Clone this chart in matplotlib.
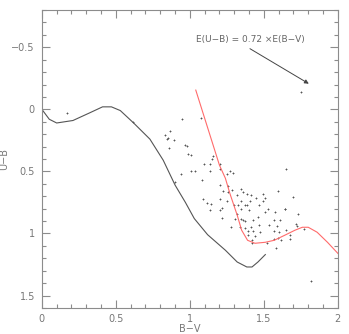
import matplotlib
matplotlib.use('Agg')
import matplotlib.pyplot as plt
from matplotlib.ticker import MultipleLocator, FuncFormatter

# intrinsic two-colour sequence (black)
seq_bv = [0.0, 0.05, 0.10, 0.21, 0.32, 0.41, 0.47, 0.53, 0.62, 0.73, 0.82, 0.90,
          0.97, 1.03, 1.12, 1.24, 1.32, 1.385, 1.42, 1.46, 1.51]
seq_ub = [0.0, 0.08, 0.11, 0.09, 0.03, -0.02, -0.02, 0.01, 0.11, 0.24, 0.41, 0.61,
          0.75, 0.88, 1.01, 1.135, 1.23, 1.27, 1.27, 1.23, 1.17]

# reddened sequence (red)
red_bv = [1.04, 1.20, 1.24, 1.27, 1.32, 1.35, 1.39, 1.44, 1.51, 1.57, 1.64, 1.71,
          1.76, 1.80, 1.86, 1.93, 2.0, 2.05]
red_ub = [-0.155, 0.45, 0.555, 0.676, 0.853, 0.974, 1.055, 1.079, 1.071, 1.055, 1.015, 0.974,
          0.95, 0.95, 0.99, 1.071, 1.16, 1.22]

# stars
star_bv = [0.167, 0.613, 0.944, 1.072, 1.750, 0.867, 0.829, 0.843, 0.853, 0.894, 0.860, 0.966,
           0.978, 0.988, 1.011, 1.157, 1.153, 1.097, 1.133, 1.203, 1.007, 1.034, 0.939, 1.135,
           0.899, 1.079, 1.207, 1.259, 1.221, 1.259, 1.086, 1.113, 1.203, 1.142, 1.252, 1.135,
           1.214, 1.218, 1.270, 1.248, 1.289, 1.653, 1.282, 1.345, 1.360, 1.319, 1.387, 1.410,
           1.495, 1.593, 1.446, 1.507, 1.698, 1.343, 1.405, 1.372, 1.387, 1.468, 1.299, 1.529,
           1.343, 1.399, 1.507, 1.642, 1.319, 1.574, 1.732, 1.461, 1.304, 1.349, 1.360, 1.376,
           1.424, 1.570, 1.608, 1.536, 1.468, 1.275, 1.338, 1.412, 1.586, 1.721, 1.714, 1.372,
           1.394, 1.428, 1.473, 1.570, 1.601, 1.653, 1.676, 1.390, 1.439, 1.570, 1.597, 1.417,
           1.421, 1.518, 1.581, 1.640, 1.770, 1.676, 1.615, 1.816, 1.203, 1.322, 1.495, 1.207]
star_ub = [0.033, 0.106, 0.081, 0.071, -0.141, 0.173, 0.208, 0.240, 0.230, 0.246, 0.310, 0.289,
           0.297, 0.361, 0.369, 0.377, 0.402, 0.442, 0.442, 0.477, 0.496, 0.496, 0.523, 0.496,
           0.585, 0.571, 0.606, 0.619, 0.657, 0.665, 0.724, 0.754, 0.719, 0.759, 0.738, 0.813,
           0.794, 0.875, 0.498, 0.517, 0.510, 0.482, 0.646, 0.638, 0.665, 0.692, 0.686, 0.692,
           0.686, 0.660, 0.714, 0.714, 0.706, 0.740, 0.740, 0.773, 0.767, 0.773, 0.773, 0.805,
           0.805, 0.813, 0.827, 0.805, 0.840, 0.831, 0.840, 0.867, 0.880, 0.880, 0.894, 0.902,
           0.894, 0.894, 0.894, 0.934, 0.928, 0.948, 0.948, 0.948, 0.939, 0.942, 0.923, 0.956,
           0.980, 0.982, 0.988, 0.982, 0.988, 0.974, 1.015, 1.015, 1.023, 1.047, 1.036, 1.055,
           1.073, 1.073, 1.114, 0.802, 0.965, 1.041, 1.049, 1.383, 0.442, 0.767, 0.740, 0.808]

gray = '#8c8c8c'
plt.rcParams['font.family'] = 'DejaVu Sans'
plt.rcParams['font.size'] = 7

fig = plt.figure(figsize=(3.49, 3.34), dpi=100)
ax = fig.add_axes([0.120, 0.078, 0.848, 0.892])

ax.plot(seq_bv, seq_ub, color='#555555', lw=0.8)
ax.plot(red_bv, red_ub, color='#ff6b6b', lw=0.8)
ax.scatter(star_bv, star_ub, s=3.5, color='#555555', marker='+', linewidths=0.6)

ax.annotate('', xy=(1.82, -0.195), xytext=(1.39, -0.50),
            arrowprops=dict(arrowstyle='-|>', color='#444444', lw=0.7,
                            mutation_scale=6))
ax.text(1.41, -0.566, 'E(U\u2212B) = 0.72 \u00d7E(B\u2212V)', ha='center', va='center',
        color='#666666', fontsize=6.5)

ax.set_xlim(0, 2)
ax.set_ylim(1.6, -0.8)
ax.xaxis.set_major_locator(MultipleLocator(0.5))
ax.xaxis.set_minor_locator(MultipleLocator(0.1))
ax.yaxis.set_major_locator(MultipleLocator(0.5))
ax.yaxis.set_minor_locator(MultipleLocator(0.1))
fmt = FuncFormatter(lambda v, p: ('%g' % v).replace('-', '\u2212'))
ax.xaxis.set_major_formatter(fmt)
ax.yaxis.set_major_formatter(fmt)
ax.tick_params(which='both', direction='in', top=True, right=True, colors=gray,
               labelcolor='#777777', width=0.8)
ax.tick_params(which='major', length=6)
ax.tick_params(which='minor', length=3)
ax.tick_params(axis='x', which='major', pad=4)
ax.tick_params(axis='y', which='major', pad=5)
for s in ax.spines.values():
    s.set_color(gray)
    s.set_linewidth(0.8)

ax.set_xlabel('B\u2212V', color='#777777', labelpad=0)
ax.set_ylabel('U\u2212B', color='#777777', labelpad=2)

fig.savefig('out.png', dpi=100)
